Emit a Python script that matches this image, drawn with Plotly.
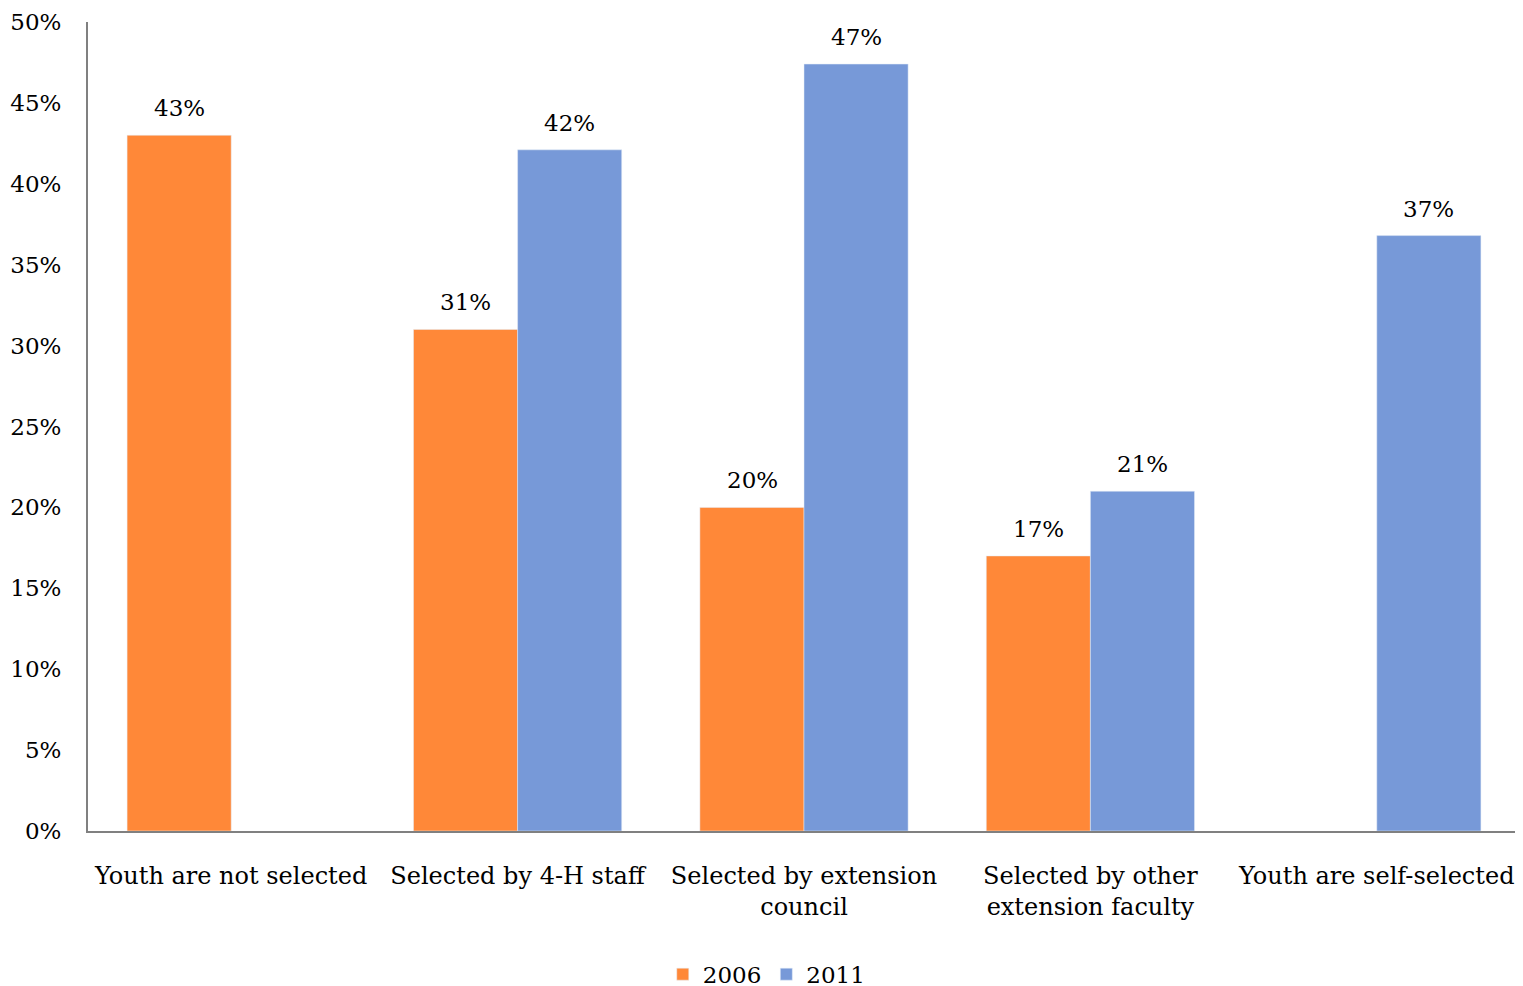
import plotly.graph_objects as go

categories = ["Youth are not selected", "Selected by 4-H staff",
              "Selected by extension<br>council", "Selected by other<br>extension faculty",
              "Youth are self-selected"]
values_2006 = [43.0, 31.0, 20.0, 17.0, None]
values_2011 = [None, 42.1, 47.4, 21.0, 36.8]
labels_2006 = ["43%", "31%", "20%", "17%", None]
labels_2011 = [None, "42%", "47%", "21%", "37%"]
tick_vals = [0, 5, 10, 15, 20, 25, 30, 35, 40, 45, 50]
tick_text = ["0%", "5%", "10%", "15%", "20%", "25%", "30%", "35%", "40%", "45%", "50%"]

FONT = "DejaVu Serif"
ORANGE = "#FF8838"
BLUE = "#7799D8"

fig = go.Figure()
fig.add_trace(go.Bar(name="2006", x=categories, y=values_2006, marker_color=ORANGE))
fig.add_trace(go.Bar(name="2011", x=categories, y=values_2011, marker_color=BLUE))

annotations = []
for vals, labs, shift in ((values_2006, labels_2006, -52), (values_2011, labels_2011, 52)):
    for c, v, t in zip(categories, vals, labs):
        if v is None:
            continue
        annotations.append(dict(x=c, y=v, xref="x", yref="y", text=t, showarrow=False,
                                xshift=shift, yshift=12, yanchor="bottom",
                                font=dict(family=FONT, size=23, color="#000")))

fig.update_layout(
    barmode="group", bargap=0.273, bargroupgap=0,
    width=1515, height=1000,
    margin=dict(l=80, r=3, t=14, b=177),
    plot_bgcolor="white", paper_bgcolor="white",
    font=dict(family=FONT, size=23, color="#000"),
    showlegend=True,
    legend=dict(orientation="h", x=0.474, xanchor="center", y=-0.177, yanchor="middle",
                font=dict(family=FONT, size=23), itemwidth=30, traceorder="normal"),
    annotations=annotations,
)
fig.update_yaxes(range=[0, 50], tickvals=tick_vals, ticktext=tick_text, showgrid=False,
                 zeroline=False, showline=True, linecolor="#808080", linewidth=2,
                 ticks="", ticklabelstandoff=20, tickfont=dict(size=23),
                 ticklabeloverflow="allow", automargin=False)
fig.update_xaxes(showgrid=False, showline=True, linecolor="#808080", linewidth=2,
                 ticks="", ticklabelstandoff=22, tickfont=dict(size=24), automargin=False)

fig.write_html("out.html")
